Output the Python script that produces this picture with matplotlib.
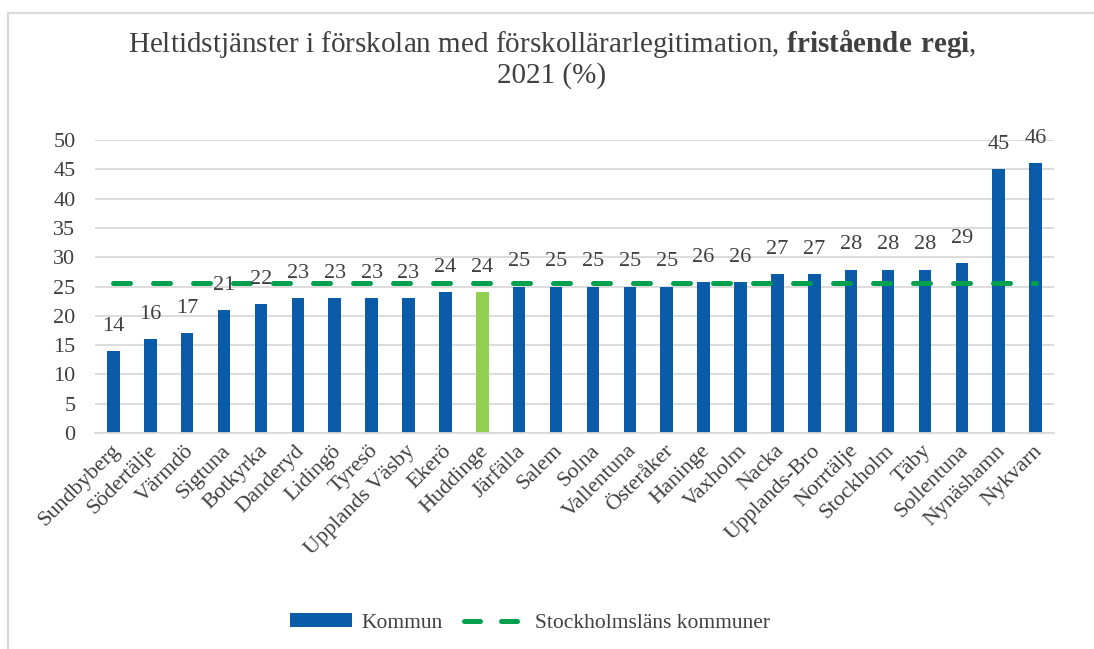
import matplotlib
matplotlib.use("Agg")
import matplotlib.pyplot as plt
import matplotlib.transforms as mtransforms
from matplotlib.lines import Line2D
from matplotlib.patches import Patch

categories = ["Sundbyberg", "Södertälje", "Värmdö", "Sigtuna", "Botkyrka", "Danderyd",
              "Lidingö", "Tyresö", "Upplands Väsby", "Ekerö", "Huddinge", "Järfälla",
              "Salem", "Solna", "Vallentuna", "Österåker", "Haninge", "Vaxholm", "Nacka",
              "Upplands-Bro", "Norrtälje", "Stockholm", "Täby", "Sollentuna", "Nynäshamn",
              "Nykvarn"]
values = [14.0, 16.0, 17.0, 21.0, 22.0, 23.0, 23.0, 23.0, 23.0, 24.0, 24.0, 25.0,
          25.0, 25.0, 25.0, 25.0, 25.7, 25.7, 27.1, 27.1, 27.9, 27.9, 27.9, 29.0, 45.0, 46.0]
labels = ["14", "16", "17", "21", "22", "23", "23", "23", "23", "24", "24", "25",
          "25", "25", "25", "25", "26", "26", "27", "27", "28", "28", "28", "29", "45", "46"]
county_avg = [25.6] * len(categories)
highlight = "Huddinge"

BLUE = "#0A5CA8"
LGREEN = "#92D050"
DGREEN = "#00A04F"
TEXT = "#404040"
GRID = "#D9D9D9"

plt.rcParams['font.family'] = ['Liberation Serif', 'DejaVu Serif']
plt.rcParams['mathtext.fontset'] = 'custom'
plt.rcParams['mathtext.rm'] = 'Liberation Serif'
plt.rcParams['mathtext.bf'] = 'Liberation Serif:bold'

W, H = 1094, 649
fig = plt.figure(figsize=(W / 100, H / 100), dpi=100)
ax = fig.add_axes([95 / W, 1 - 433 / H, (1054 - 95) / W, (433 - 140) / H])

x = list(range(len(categories)))
colors = [LGREEN if c == highlight else BLUE for c in categories]
ax.bar(x, values, width=0.34, color=colors, zorder=2)

ln, = ax.plot(x, county_avg, color=DGREEN, lw=3.6, zorder=3,
              solid_capstyle='round', dash_capstyle='round')
ln.set_dashes([3.4, 4.6])

for xi, v, lab in zip(x, values, labels):
    ax.annotate(lab, (xi, v), xytext=(0, 11), textcoords='offset points',
                ha='center', va='bottom', fontsize=16, color=TEXT, zorder=4)

ax.set_ylim(0, 50)
ax.set_xlim(-0.5, len(categories) - 0.5)
ax.set_yticks(range(0, 51, 5))
ax.yaxis.grid(True, color=GRID, lw=1.3, zorder=0)
ax.set_axisbelow(True)
for s in ['top', 'right', 'left']:
    ax.spines[s].set_visible(False)
ax.spines['bottom'].set_color(GRID)
ax.spines['bottom'].set_linewidth(1.3)
ax.tick_params(axis='both', length=0, colors=TEXT, labelsize=16)
ax.tick_params(axis='y', pad=14)
ax.set_xticks(x)
ax.set_xticklabels(categories, rotation=45, ha='right', rotation_mode='anchor',
                   fontsize=16, color=TEXT)
ax.tick_params(axis='x', pad=6)
shift = mtransforms.ScaledTranslation(-3 / 100, 0, fig.dpi_scale_trans)
for t in ax.get_xticklabels():
    t.set_transform(t.get_transform() + shift)

fig.text(552 / W, 1 - 44 / H,
         "Heltidstjänster i förskolan med förskollärarlegitimation, $\\mathbf{fristående\\ regi}$,",
         ha='center', va='center', fontsize=21, color=TEXT)
fig.text(552 / W, 1 - 76 / H, "2021 (%)", ha='center', va='center', fontsize=21, color=TEXT)

handles = [Patch(facecolor=BLUE, edgecolor='none'),
           Line2D([0], [0], color=DGREEN, lw=3.6, dashes=[3.2, 4.2], dash_capstyle='round')]
fig.legend(handles, ["Kommun", "Stockholmsläns kommuner"], loc='center',
           bbox_to_anchor=(530 / W, 1 - 623 / H), ncol=2, frameon=False,
           fontsize=15.5, labelcolor=TEXT, handlelength=2.9, handleheight=0.6,
           columnspacing=1.0, handletextpad=0.42, borderpad=0.2)

# outer frame
fig.add_artist(Line2D([8 / W, 8 / W], [0, 1 - 13 / H], color='#D9D9D9', lw=1.5))
fig.add_artist(Line2D([8 / W, 1], [1 - 13 / H, 1 - 13 / H], color='#D9D9D9', lw=1.5))

fig.savefig("out.png", dpi=100)
